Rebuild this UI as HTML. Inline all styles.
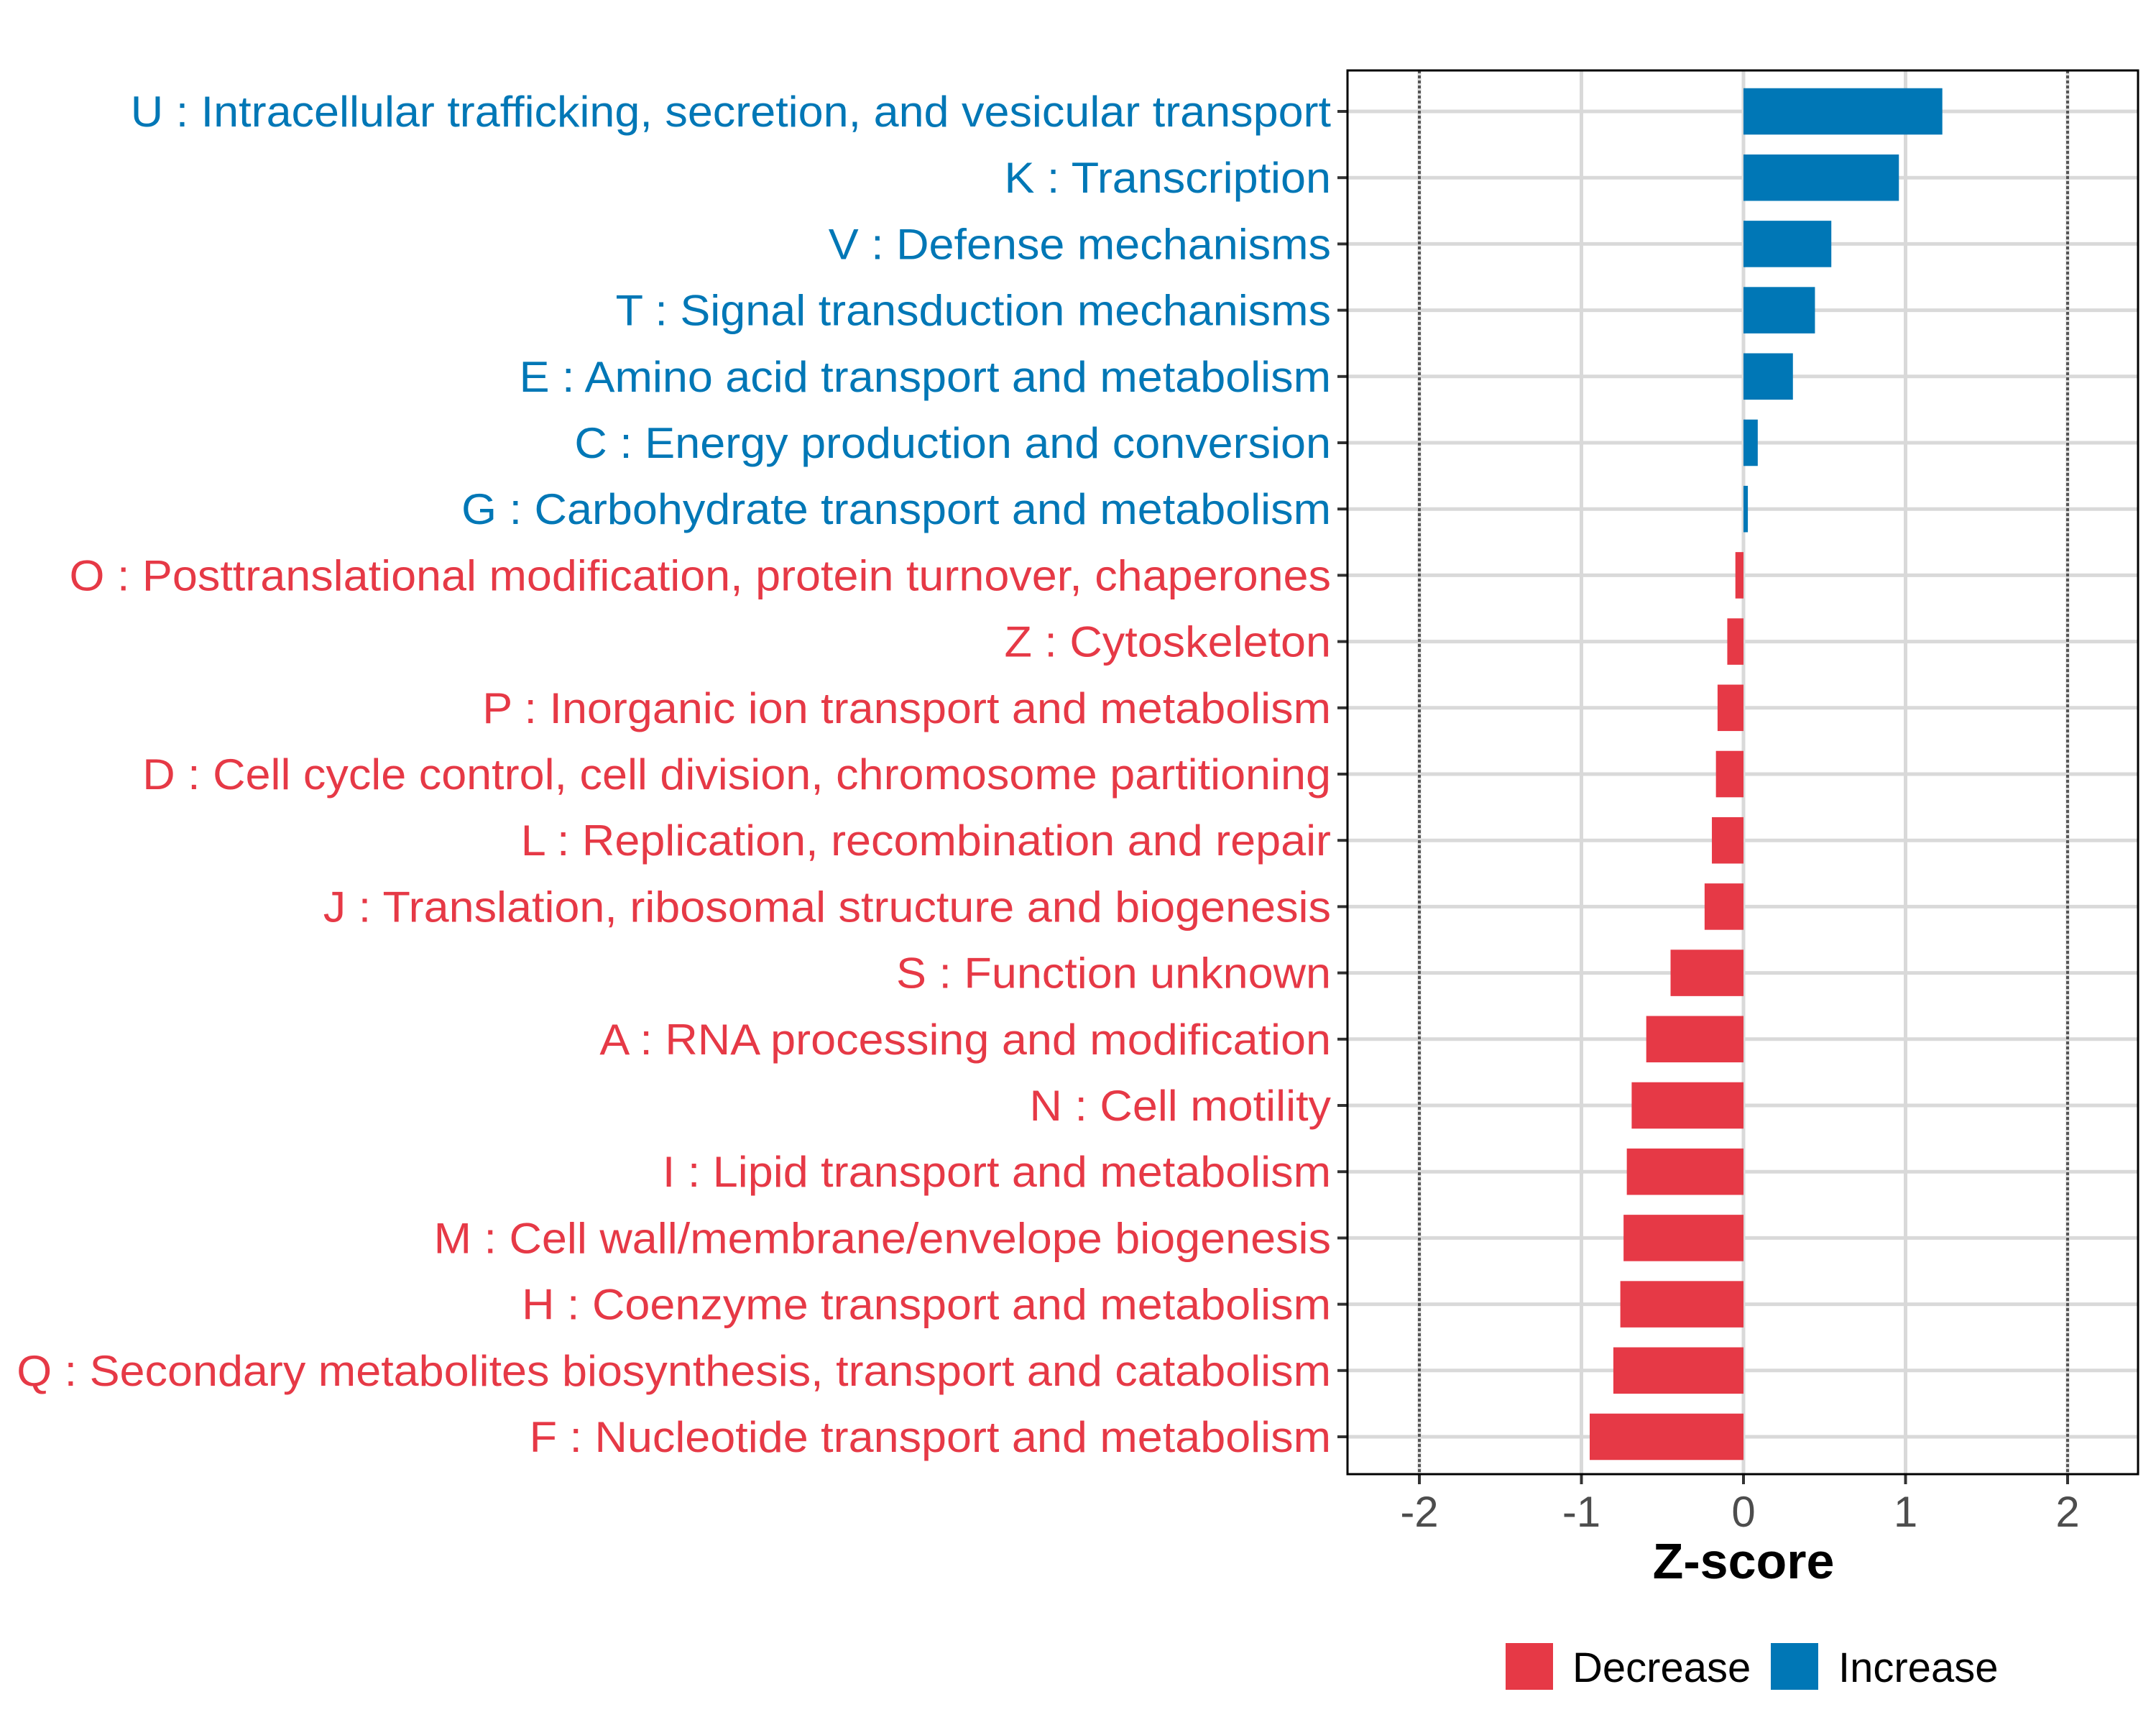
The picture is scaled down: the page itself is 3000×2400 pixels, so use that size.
<!DOCTYPE html>
<html><head><meta charset="utf-8"><style>
html,body{margin:0;padding:0;background:#fff;}
svg{display:block;font-family:"Liberation Sans",Arial,sans-serif;}
</style></head><body>
<svg id="chart" width="3000" height="2400" viewBox="0 0 3000 2400" xmlns="http://www.w3.org/2000/svg">
<rect x="0" y="0" width="3000" height="2400" fill="#fff"/>
<g id="grid"></g>
<g id="bars"></g>
<g id="ylabels"></g>
<g id="xaxis"></g>
<rect x="1875" y="98" width="1100" height="1953" fill="none" stroke="#000" stroke-width="3"/>
<text x="2426" y="2196" text-anchor="middle" font-size="70" font-weight="bold" fill="#000">Z-score</text>
<g>
<rect x="2095" y="2286" width="66" height="65" fill="#E63946"/>
<text x="2188" y="2340" font-size="58" fill="#000">Decrease</text>
<rect x="2464" y="2286" width="66" height="65" fill="#0077B6"/>
<text x="2558" y="2340" font-size="58" fill="#000">Increase</text>
</g>
</svg>
<script>
const categories = [
"U : Intracellular trafficking, secretion, and vesicular transport",
"K : Transcription",
"V : Defense mechanisms",
"T : Signal transduction mechanisms",
"E : Amino acid transport and metabolism",
"C : Energy production and conversion",
"G : Carbohydrate transport and metabolism",
"O : Posttranslational modification, protein turnover, chaperones",
"Z : Cytoskeleton",
"P : Inorganic ion transport and metabolism",
"D : Cell cycle control, cell division, chromosome partitioning",
"L : Replication, recombination and repair",
"J : Translation, ribosomal structure and biogenesis",
"S : Function unknown",
"A : RNA processing and modification",
"N : Cell motility",
"I : Lipid transport and metabolism",
"M : Cell wall/membrane/envelope biogenesis",
"H : Coenzyme transport and metabolism",
"Q : Secondary metabolites biosynthesis, transport and catabolism",
"F : Nucleotide transport and metabolism"
];
const zscores = [1.227,0.959,0.542,0.441,0.305,0.088,0.027,-0.05,-0.10,-0.16,-0.17,-0.195,-0.24,-0.45,-0.60,-0.69,-0.72,-0.74,-0.76,-0.803,-0.949];
const xTicks = [-2,-1,0,1,2];
const xTickLabels = ["-2","-1","0","1","2"];
const thresholds = [-2,2];

const NS="http://www.w3.org/2000/svg";
const X0=2426, UNIT=225.5;
function xs(v){return X0+v*UNIT;}
const ROW0=155, STEP=92.2;
function ys(i){return ROW0+i*STEP;}
const BLUE="#0077B6", RED="#E63946";
function mk(tag,attrs,parent){const e=document.createElementNS(NS,tag);for(const k in attrs)e.setAttribute(k,attrs[k]);parent.appendChild(e);return e;}

const grid=document.getElementById('grid');
xTicks.forEach(function(t,i){
  const l=mk('line',{x1:xs(t),x2:xs(t),y1:98,y2:2051,stroke:'#D9D9D9','stroke-width':5},grid);
  
  
});
categories.forEach(function(c,i){
  const l=mk('line',{x1:1875,x2:2975,y1:ys(i),y2:ys(i),stroke:'#D9D9D9','stroke-width':5},grid);
  
  
});
thresholds.forEach(function(t){
  const l=mk('line',{x1:xs(t),x2:xs(t),y1:98,y2:2051,stroke:'#555','stroke-width':4,'stroke-dasharray':'4 3'},grid);
  
  
});

const bars=document.getElementById('bars');
const BH=STEP*0.7;
zscores.forEach(function(v,i){
  const x=Math.min(xs(0),xs(v)), w=Math.abs(xs(v)-xs(0));
  const r=mk('rect',{x:x,y:ys(i)-BH/2,width:Math.max(w,1),height:BH,fill:v>=0?BLUE:RED},bars);
  
  
});

const yl=document.getElementById('ylabels');
const inner=mk('g',{},yl);
const texts=[];
categories.forEach(function(c,i){
  const tk=mk('line',{x1:1861,x2:1875,y1:ys(i),y2:ys(i),stroke:'#333','stroke-width':4},yl);
  
  
  const t=mk('text',{x:0,y:ys(i)+21,'text-anchor':'end','font-size':60,fill:zscores[i]>=0?BLUE:RED},inner);
  t.textContent=c;
  
  
  texts.push(t);
});
let sx=0.9;
try{const w=texts[19].getComputedTextLength(); if(w>0) sx=1829/w;}catch(e){}
inner.setAttribute('transform','translate(1852,0) scale('+sx+',1)');

const xa=document.getElementById('xaxis');
xTicks.forEach(function(t,i){
  const tk=mk('line',{x1:xs(t),x2:xs(t),y1:2051,y2:2065,stroke:'#333','stroke-width':4},xa);
  
  
  const lb=mk('text',{x:xs(t),y:2124,'text-anchor':'middle','font-size':60,fill:'#4D4D4D'},xa);
  lb.textContent=xTickLabels[i];
  
  
});
</script>
</body></html>
